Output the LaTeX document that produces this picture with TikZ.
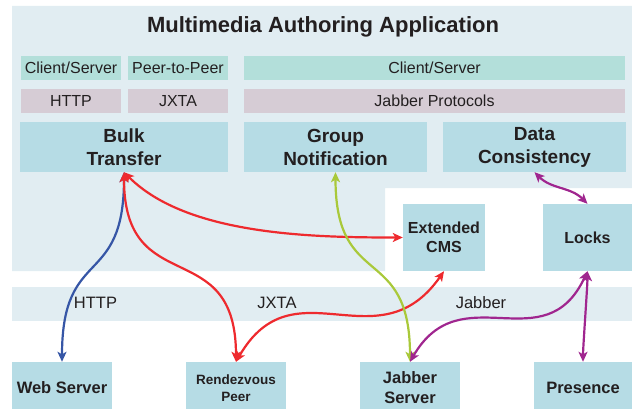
\documentclass[tikz,border=0pt]{standalone}
\usepackage{fontspec}
\setmainfont{Liberation Sans}
\usetikzlibrary{arrows.meta}
\definecolor{panelbg}{HTML}{E1EDF2}
\definecolor{modelbox}{HTML}{B3DFDA}
\definecolor{protobox}{HTML}{D6CCD5}
\definecolor{servbox}{HTML}{B6DCE5}
\definecolor{ink}{HTML}{231F20}
\definecolor{linkred}{HTML}{EE2A2E}
\definecolor{linkblue}{HTML}{3656A6}
\definecolor{linkgreen}{HTML}{A9C93A}
\definecolor{linkpurple}{HTML}{A0268F}
\begin{document}
\begin{tikzpicture}[x=1pt,y=1pt,
                       text=ink,
                       model node/.style={rectangle,fill=modelbox,inner sep=0pt,minimum height=24pt,font=\fontsize{16}{19}\selectfont},
                       proto node/.style={rectangle,fill=protobox,inner sep=0pt,minimum height=24pt,font=\fontsize{16}{19}\selectfont},
                       serv node/.style={rectangle,fill=servbox,inner sep=0pt,align=center},
                       link/.style={line width=2.2pt,{Stealth[length=10pt,width=9pt,inset=2.5pt]}-{Stealth[length=10pt,width=9pt,inset=2.5pt]}}
                      ]
  \useasboundingbox (0,0) rectangle (632,-409);
  \fill[panelbg] (12,-6) -- (632,-6) -- (632,-188) -- (385,-188) -- (385,-271) -- (12,-271) -- cycle;
  \fill[panelbg] (12,-287) rectangle (632,-321);

  \node[font=\bfseries\fontsize{22}{26}\selectfont] (title) at (323,-27) {Multimedia Authoring Application};

  \node[model node,minimum width=100pt] (cs1) at (71,-68) {Client/Server};
  \node[model node,minimum width=100pt] (p2p) at (178,-68) {Peer-to-Peer};
  \node[model node,minimum width=381pt] (cs2) at (434.5,-68) {Client/Server};
  \node[proto node,minimum width=100pt] (http) at (71,-101) {HTTP};
  \node[proto node,minimum width=100pt] (jxta) at (178,-101) {JXTA};
  \node[proto node,minimum width=381pt] (jabp) at (434.5,-101) {Jabber Protocols};

  \node[serv node,minimum width=208pt,minimum height=50pt,font=\bfseries\fontsize{19}{23}\selectfont] (bt) at (124,-147) {Bulk\\Transfer};
  \node[serv node,minimum width=183pt,minimum height=50pt,font=\bfseries\fontsize{19}{23}\selectfont] (gn) at (335.5,-147) {Group\\Notification};
  \node[serv node,minimum width=183pt,minimum height=50pt,font=\bfseries\fontsize{19}{23}\selectfont] (dc) at (534.5,-147) {Data\\Consistency};

  \node[serv node,minimum width=82pt,minimum height=67pt,font=\bfseries\fontsize{16}{18.5}\selectfont] (cms) at (444,-237.5) {Extended\\CMS};
  \node[serv node,minimum width=89pt,minimum height=67pt,font=\bfseries\fontsize{16}{18.5}\selectfont] (locks) at (587.5,-237.5) {Locks};

  \node[font=\fontsize{16.5}{19}\selectfont] (lhttp) at (95.5,-303) {HTTP};
  \node[font=\fontsize{16.5}{19}\selectfont] (ljxta) at (277,-303) {JXTA};
  \node[font=\fontsize{16.5}{19}\selectfont] (ljab) at (481,-303) {Jabber};

  \node[serv node,minimum width=100pt,minimum height=52pt,font=\bfseries\fontsize{16.5}{20}\selectfont] (ws) at (62,-388) {Web Server};
  \node[serv node,minimum width=100pt,minimum height=52pt,font=\bfseries\fontsize{13.5}{16.5}\selectfont] (rp) at (236,-388) {Rendezvous\\Peer};
  \node[serv node,minimum width=100pt,minimum height=52pt,font=\bfseries\fontsize{16.5}{20}\selectfont] (js) at (410,-388) {Jabber\\Server};
  \node[serv node,minimum width=98pt,minimum height=52pt,font=\bfseries\fontsize{16.5}{20}\selectfont] (pres) at (583,-388) {Presence};

  \path%
   (bt.south) edge [link,linkblue,out=-90,in=90,looseness=1.5] (ws.north)
   (bt.south) edge [link,linkred,out=-90,in=90,looseness=1.5] (rp.north)
   (bt.south) edge [link,linkred,out=-45,in=180,looseness=0.8] (cms.west)
   (rp.north) edge [link,linkred,out=60,in=-125,looseness=1.3] (cms.south)
   (gn.south) edge [link,linkgreen,out=-90,in=90,looseness=1.5] (js.north)
   (js.north) edge [link,linkpurple,out=60,in=-115,looseness=1.3] (locks.south)
   (locks.south) edge [link,linkpurple,out=-90,in=90,looseness=0.4] (pres.north)
   (dc.south) edge [link,linkpurple,out=-45,in=135] (locks.north);
 \end{tikzpicture}
\end{document}
